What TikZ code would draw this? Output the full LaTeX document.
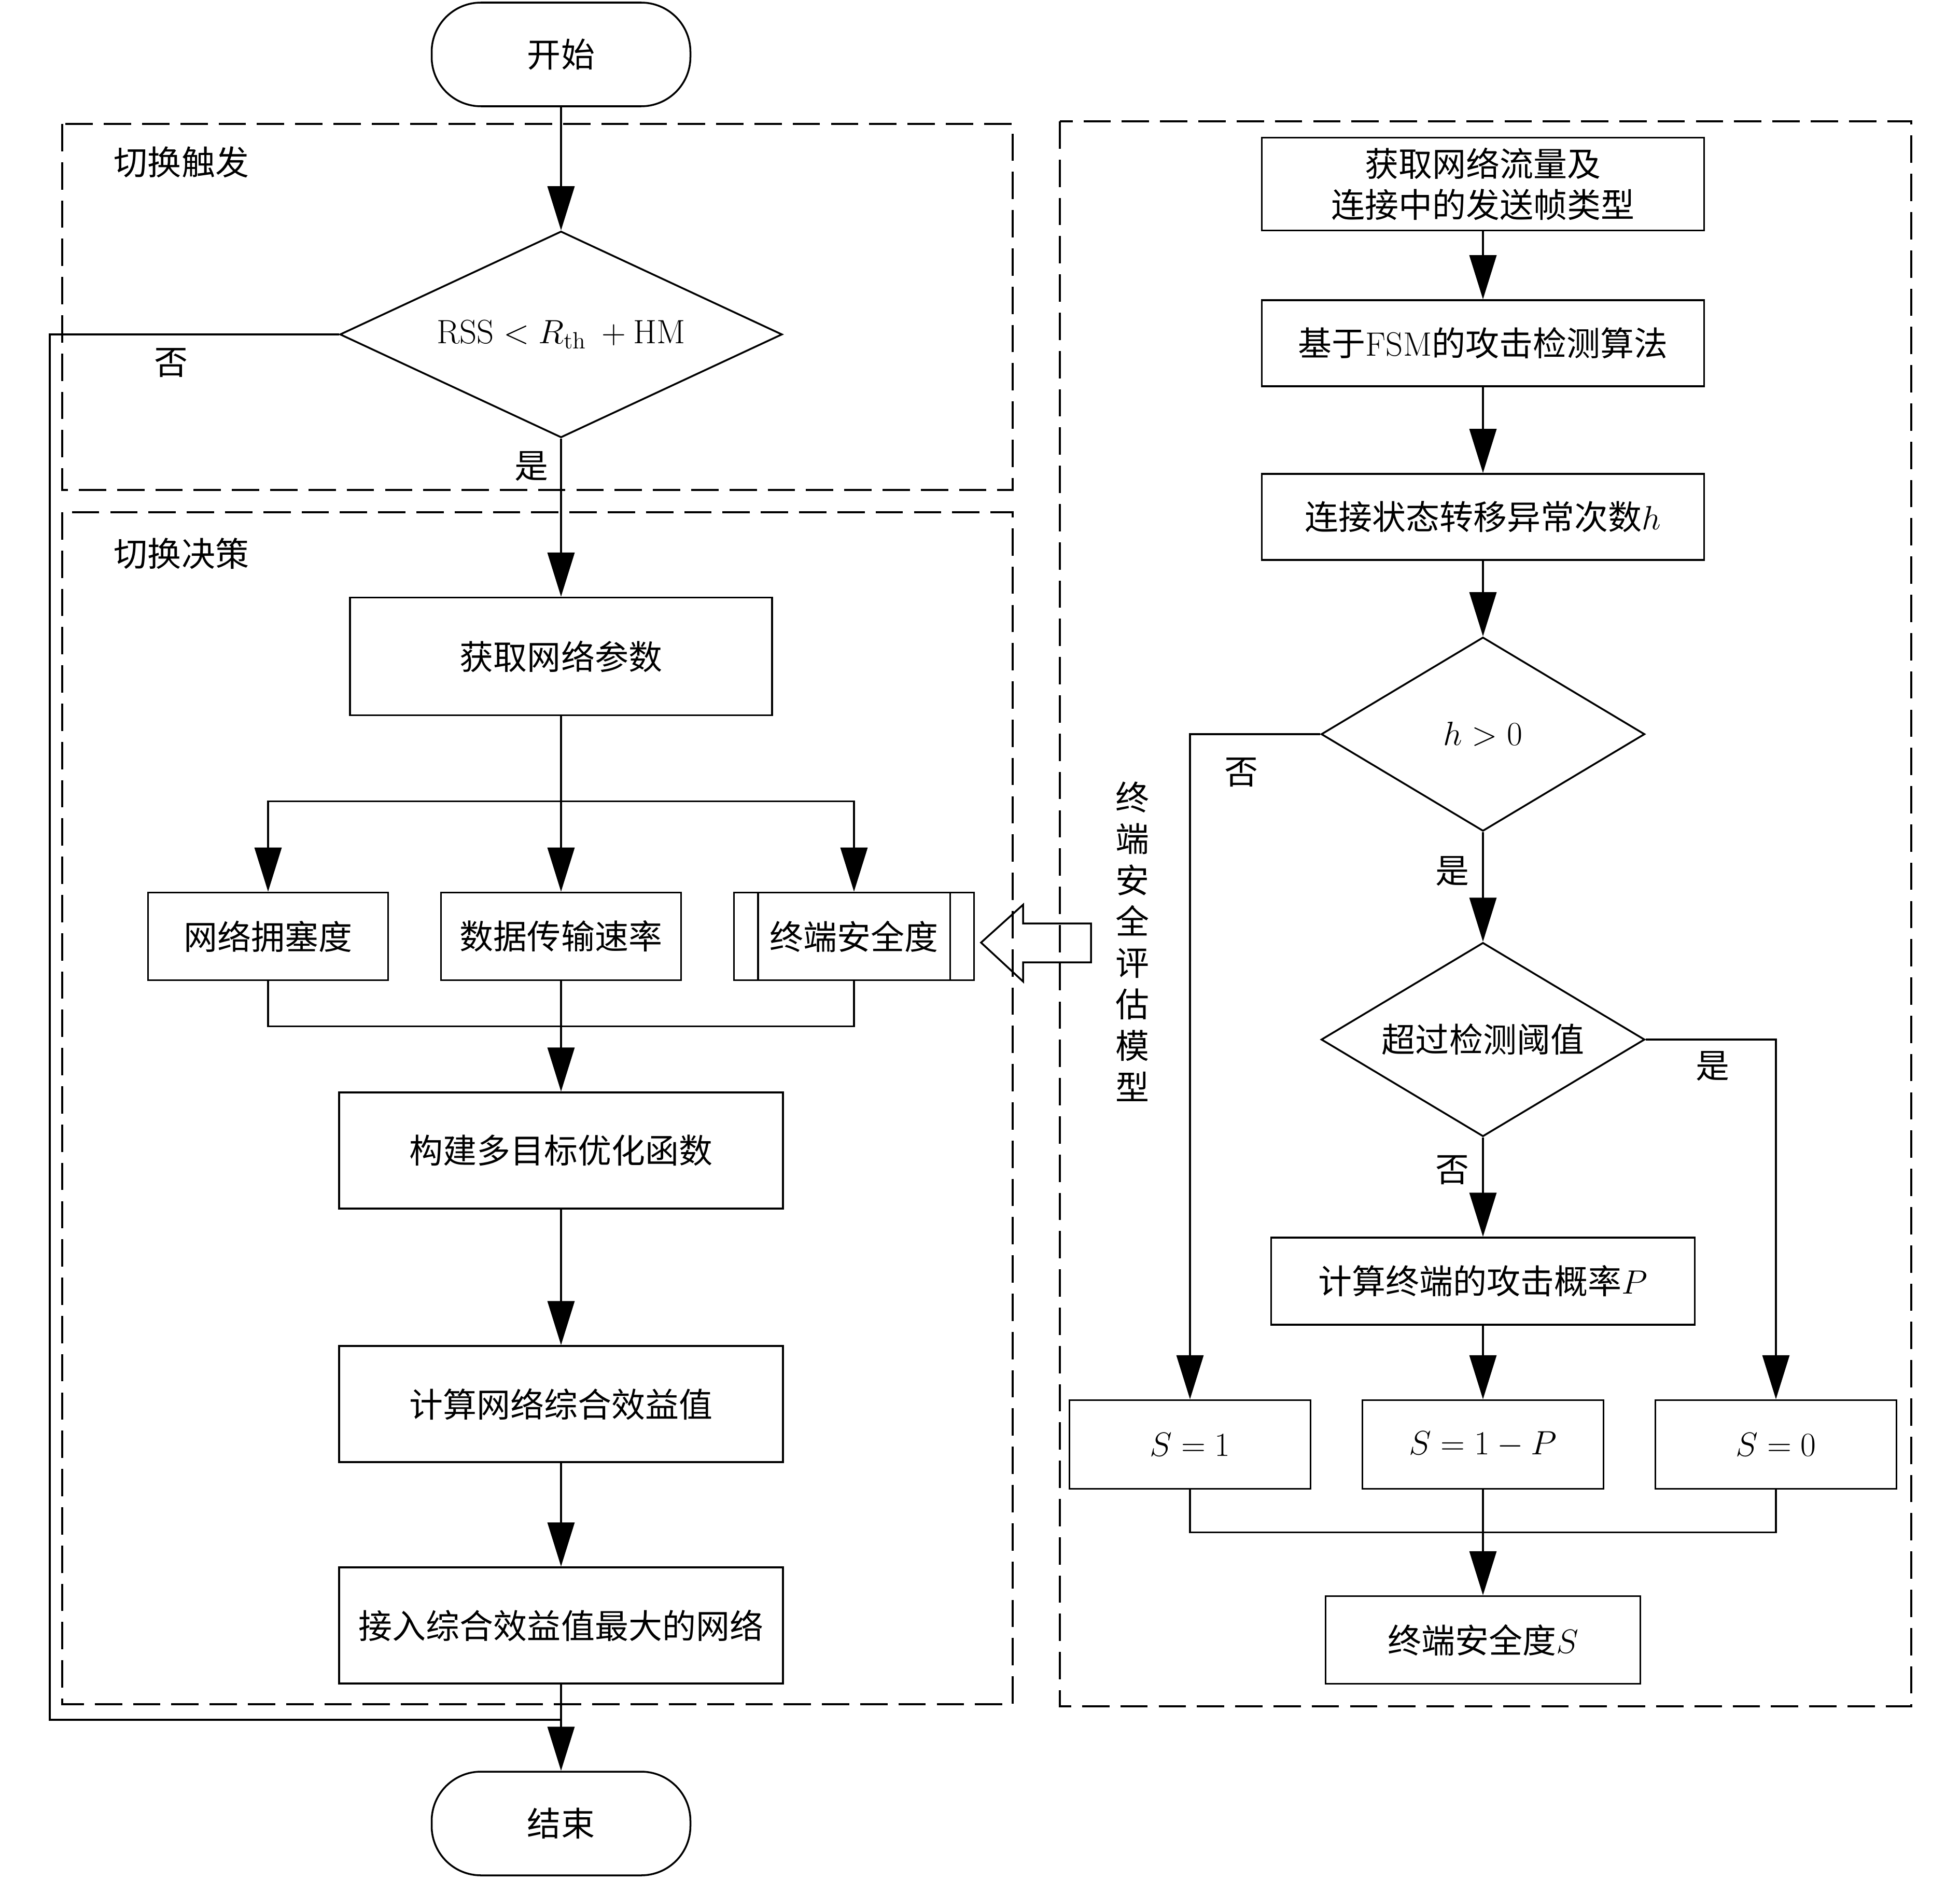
\RequirePackage{fix-cm}
\documentclass[tikz,border=0pt]{standalone}
\usepackage{fontspec}
\newfontfamily\cjk{Noto Sans CJK SC}
\usepackage{amsmath, amssymb}
\usetikzlibrary{arrows.meta, shapes.geometric, positioning}

\begin{document}
\begin{tikzpicture}[
        line width=1pt, node distance=5.65cm, on grid,
        >={Triangle[length=0.85cm,width=0.52cm]},
        every node/.style={font=\cjk\fontsize{18.5}{22.7}\selectfont},
        proc/.style={draw, rectangle, inner sep=0pt, align=center},
        term/.style={draw, rounded corners=0.95cm, minimum width=4.99cm, minimum height=2cm},
        decision/.style={draw, diamond, inner sep=0pt},
        group/.style={draw, line width=1.1pt, dash pattern=on 15pt off 6pt},
        ]
        \useasboundingbox (0,0) rectangle (37.8,-36.26);

        % groups
        \draw[group] (1.20,-2.39) rectangle (19.53,-9.45);
        \draw[group] (1.20,-9.88) rectangle (19.53,-32.87);
        \draw[group] (20.44,-2.34) rectangle (36.86,-32.91);
        \node at (3.50,-3.13) {切换触发};
        \node at (3.50,-10.68) {切换决策};

        % left column
        \node[term] (n_start) at (10.82,-1.05) {开始};
        \node[decision, minimum width=8.53cm, minimum height=3.98cm, aspect=2.14] (d_rss) at (10.82,-6.45)
            {$\mathrm{RSS} < R_{\mathrm{th}}\ + \mathrm{HM}$};
        \node[proc, minimum width=8.14cm, minimum height=2.27cm] (b_param) at (10.82,-12.66) {获取网络参数};
        \node[proc, minimum width=4.63cm, minimum height=1.69cm] (b_rate) at (10.82,-18.06) {数据传输速率};
        \node[proc, minimum width=4.63cm, minimum height=1.69cm, left=of b_rate] (b_cong) {网络拥塞度};
        \node[proc, minimum width=4.63cm, minimum height=1.69cm, right=of b_rate] (b_sec) {终端安全度};
        \node[proc, minimum width=8.56cm, minimum height=2.24cm] (b_obj) at (10.82,-22.19) {构建多目标优化函数};
        \node[proc, minimum width=8.56cm, minimum height=2.24cm] (b_val) at (10.82,-27.08) {计算网络综合效益值};
        \node[proc, minimum width=8.56cm, minimum height=2.24cm] (b_acc) at (10.82,-31.35) {接入综合效益值最大的网络};
        \node[term] (n_end) at (10.82,-35.17) {结束};
        \draw ([xshift=0.48cm]b_sec.north west) -- ([xshift=0.48cm]b_sec.south west);
        \draw ([xshift=-0.48cm]b_sec.north east) -- ([xshift=-0.48cm]b_sec.south east);

        \node at (3.30,-7.00) {否};
        \node at (10.25,-8.99) {是};

        \draw[->] (n_start) -- (d_rss);
        \draw[->] (d_rss) -- (b_param);
        \draw (b_param.south) -- ++(0,-1.64) coordinate (c_split);
        \draw[->] (c_split) -| (b_cong.north);
        \draw[->] (c_split) -| (b_sec.north);
        \draw[->] (c_split) -- (b_rate.north);
        \draw (b_cong.south) -- ++(0,-0.87) -| (b_sec.south);
        \draw[->] (b_rate.south) -- (b_obj.north);
        \draw[->] (b_obj) -- (b_val);
        \draw[->] (b_val) -- (b_acc);
        \draw[->] (b_acc) -- (n_end);
        \coordinate (c_loop) at (0.96,-33.17);
        \coordinate (c_join) at (b_acc.south |- c_loop);
        \draw (d_rss.west) -| (c_loop) -- (c_join);

        % right column
        \node[proc, minimum width=8.53cm, minimum height=1.79cm] (r_flow) at (28.60,-3.55)
            {获取网络流量及\\连接中的发送帧类型};
        \node[proc, minimum width=8.53cm, minimum height=1.66cm] (r_fsm) at (28.60,-6.62)
            {基于\textrm{FSM}的攻击检测算法};
        \node[proc, minimum width=8.53cm, minimum height=1.66cm] (r_cnt) at (28.60,-9.97)
            {连接状态转移异常次数$h$};
        \node[decision, minimum width=6.24cm, minimum height=3.74cm, aspect=1.67] (d_h) at (28.60,-14.16) {$h > 0$};
        \node[decision, minimum width=6.24cm, minimum height=3.74cm, aspect=1.67] (d_thr) at (28.60,-20.05) {超过检测阈值};
        \node[proc, minimum width=8.17cm, minimum height=1.68cm] (r_prob) at (28.60,-24.71) {计算终端的攻击概率$P$};
        \node[proc, minimum width=4.65cm, minimum height=1.71cm] (s_mid) at (28.60,-27.86) {$S = 1 - P$};
        \node[proc, minimum width=4.65cm, minimum height=1.71cm, left=of s_mid] (s_one) {$S = 1$};
        \node[proc, minimum width=4.65cm, minimum height=1.71cm, right=of s_mid] (s_zero) {$S = 0$};
        \node[proc, minimum width=6.07cm, minimum height=1.69cm] (r_out) at (28.60,-31.63) {终端安全度$S$};

        \node at (23.94,-14.90) {否};
        \node at (28.01,-16.80) {是};
        \node at (33.03,-20.56) {是};
        \node at (28.01,-22.57) {否};

        \draw[->] (r_flow) -- (r_fsm);
        \draw[->] (r_fsm) -- (r_cnt);
        \draw[->] (r_cnt) -- (d_h);
        \draw[->] (d_h.west) -| (s_one.north);
        \draw[->] (d_h.south) -- (d_thr.north);
        \draw[->] (d_thr.east) -| (s_zero.north);
        \draw[->] (d_thr.south) -- (r_prob.north);
        \draw[->] (r_prob.south) -- (s_mid.north);
        \draw (s_one.south) -- ++(0,-0.82) -| (s_zero.south);
        \draw[->] (s_mid.south) -- (r_out.north);

        % evaluation model feeding the security box
        \node[align=center] (t_model) at (21.84,-18.16) {终\\端\\安\\全\\评\\估\\模\\型};
        \draw (18.92,-18.18) -- (19.73,-17.45) -- (19.73,-17.81) -- (21.04,-17.81)
            -- (21.04,-18.56) -- (19.73,-18.56) -- (19.73,-18.93) -- cycle;
      \end{tikzpicture}
\end{document}
